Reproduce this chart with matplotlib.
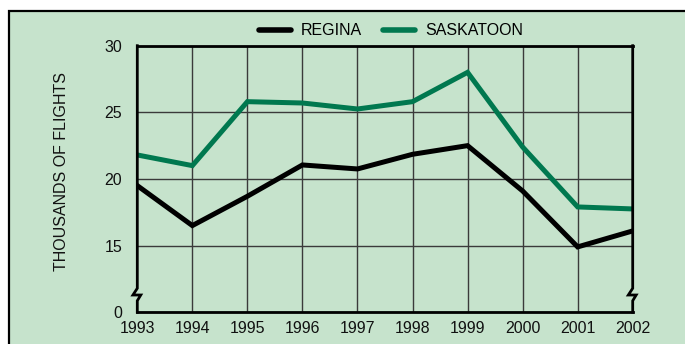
import matplotlib
matplotlib.use('Agg')
import matplotlib.pyplot as plt
from matplotlib.patches import Rectangle
from matplotlib.lines import Line2D

plt.rcParams['font.family'] = ['Liberation Sans', 'DejaVu Sans']

# flights per year, thousands
years = [1993, 1994, 1995, 1996, 1997, 1998, 1999, 2000, 2001, 2002]
regina = [19.5, 16.5, 18.7, 21.05, 20.75, 21.85, 22.5, 19.1, 14.9, 16.1]
saskatoon = [21.8, 21.0, 25.8, 25.7, 25.25, 25.8, 28.0, 22.4, 17.9, 17.75]

# bottom of the axis is a broken scale: the 10 position is labelled "0"
y_ticks = [10, 15, 20, 25, 30]
y_tick_labels = ['0', '15', '20', '25', '30']

series_names = ['REGINA', 'SASKATOON']
series_colors = ['black', '#00784f']
bg = '#c6e3cc'
fs = 11.5

W, H = 685, 344
fig = plt.figure(figsize=(W / 100, H / 100), dpi=100)
fig.patch.set_facecolor('white')

# green panel with black frame (runs off the right and bottom edges)
fig.add_artist(Rectangle((8.5 / W, -0.2), 1.5, 1.2 - 11 / H, transform=fig.transFigure,
                         facecolor=bg, edgecolor='black', linewidth=1.6, zorder=0))

ax_l, ax_r, ax_t, ax_b = 137.3, 632.7, 45.7, 312.2
ax = fig.add_axes([ax_l / W, 1 - ax_b / H, (ax_r - ax_l) / W, (ax_b - ax_t) / H])
ax.set_facecolor('none')

for vals, name, col in zip([regina, saskatoon], series_names, series_colors):
    ax.plot(years, vals, color=col, lw=3.6, solid_joinstyle='miter', label=name, zorder=3)

ax.set_xlim(years[0], years[-1])
ax.set_ylim(y_ticks[0], y_ticks[-1])
ax.set_xticks(years)
ax.set_xticklabels([str(y) for y in years])
ax.set_yticks(y_ticks)
ax.set_yticklabels(y_tick_labels)
ax.tick_params(length=0, labelsize=fs, colors='#111111')
ax.tick_params(axis='x', pad=6.5)
ax.tick_params(axis='y', pad=11)

ax.grid(True, color='#3a3a3a', lw=1.0, zorder=1)
ax.set_axisbelow(True)
# outer gridlines would show through the axis breaks
xt = ax.xaxis.get_major_ticks()
xt[0].gridline.set_visible(False)
xt[-1].gridline.set_visible(False)

for side in ['left', 'right']:
    ax.spines[side].set_visible(False)
for side in ['top', 'bottom']:
    ax.spines[side].set_linewidth(2.0)
    ax.spines[side].set_color('black')

# side axes with a zigzag break between 0 and 15
yb = [1, 0.0897, 0.0645, 0.0645, 0.043, 0]
for x0 in [0, 1]:
    xb = [x0, x0, x0 - 0.0088, x0 + 0.007, x0, x0]
    ax.plot(xb, yb, transform=ax.transAxes, color='black', lw=2.0,
            clip_on=False, solid_joinstyle='miter', zorder=4)

fig.text(61 / W, 1 - 171.5 / H, 'THOUSANDS OF FLIGHTS', rotation=90,
         ha='center', va='center', fontsize=fs, color='#111111')

handles = [Line2D([], [], color=c, lw=4, solid_capstyle='round') for c in series_colors]
fig.legend(handles, series_names, loc='center', bbox_to_anchor=(391 / W, 1 - 30.7 / H),
           ncol=2, frameon=False, fontsize=fs, handlelength=2.0, handletextpad=0.65,
           columnspacing=1.3, borderpad=0, borderaxespad=0)

fig.savefig('out.png', dpi=100)
